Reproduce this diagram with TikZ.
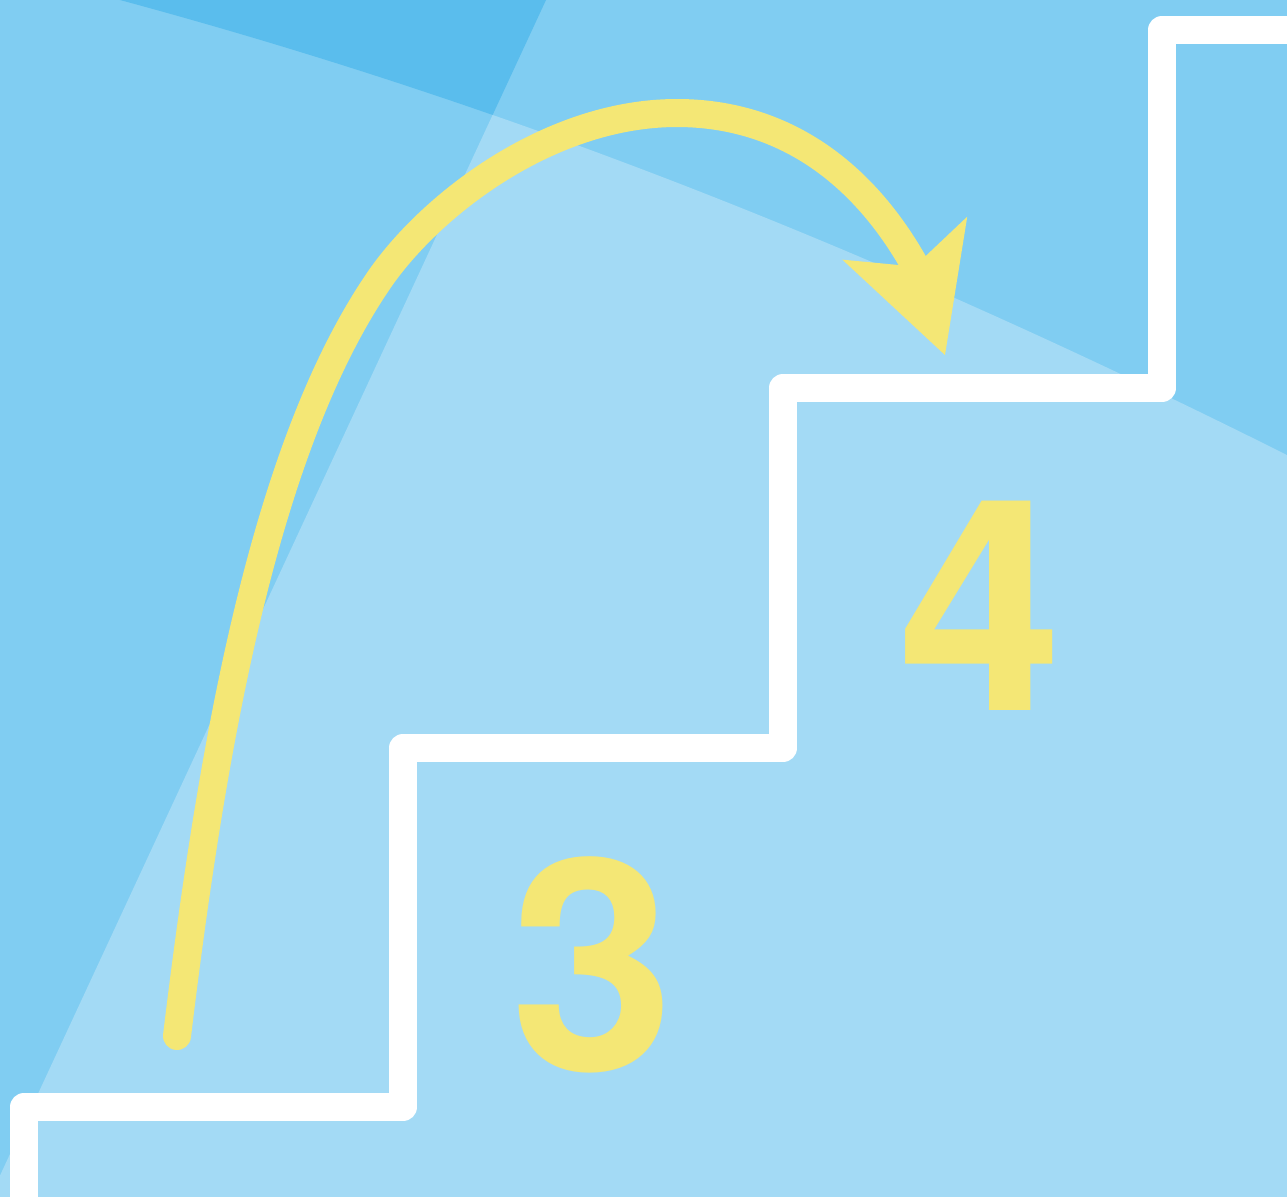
\documentclass[tikz,border=0pt]{standalone}
\usepackage{fontspec}
\setmainfont{TeX Gyre Heros}
\usetikzlibrary{arrows.meta}
\definecolor{skymid}{HTML}{80CDF2}
\definecolor{skydeep}{HTML}{5ABDED}
\definecolor{skypale}{HTML}{A3DAF5}
\definecolor{sunny}{HTML}{F4E775}

\begin{document}
\begin{tikzpicture}[x=0.01cm, y=-0.01cm,
    stair/.style={draw=white, line width=0.28cm, line join=round},
    leap/.style={draw=sunny, line width=0.28cm, line cap=round,
      -{Stealth[length=1.235cm, width=1.32cm, inset=0.3cm, line width=0pt]}},
    digit/.style={text=sunny, inner sep=0pt, font=\bfseries\fontsize{84}{84}\selectfont}]
    \useasboundingbox (0,0) rectangle (1287,1196);
    \clip (0,0) rectangle (1287,1196);
    \fill[skymid] (0,0) rectangle (1287,1196);

    % background shards
    \coordinate (ridgeL) at (120,0);
    \coordinate (ridgeR) at (1287,455);
    \coordinate (edgeT) at (546,0);
    \coordinate (edgeB) at (-16,1210);
    \begin{scope}
        \clip (ridgeL) .. controls (520,108) and (887,255) .. (ridgeR) -- (1300,-20) -- (-20,-20) -- cycle;
        \fill[skydeep] (-20,0) -- (edgeT) -- (edgeB) -- (-20,1210) -- cycle;
    \end{scope}
    \begin{scope}
        \clip (ridgeL) .. controls (520,108) and (887,255) .. (ridgeR) -- (1300,1210) -- (-20,1210) -- (-20,0) -- cycle;
        \fill[skypale] (edgeT) -- (1300,0) -- (1300,1210) -- (edgeB) -- cycle;
    \end{scope}

    % staircase
    \draw[stair] (24,1210) |- (403,1107) |- (783,748) |- (1162,388) |- (1300,30);

    % step numbers
    \node[digit] (three) at (593,965) {3};
    \node[digit] (four) at (981,606) {4};

    % jump arrow
    \coordinate (takeoff) at (177,1036);
    \coordinate (climb) at (377,283);
    \coordinate (apex) at (677,113);
    \coordinate (notch) at (913,262);
    \coordinate (landing) at (945,355);
    \draw[leap] (takeoff) .. controls (213,738) and (265,449) .. (climb)
        .. controls (427,208) and (547,113) .. (apex)
        .. controls (777,113) and (858,166) .. (notch) -- (landing);
\end{tikzpicture}
\end{document}
